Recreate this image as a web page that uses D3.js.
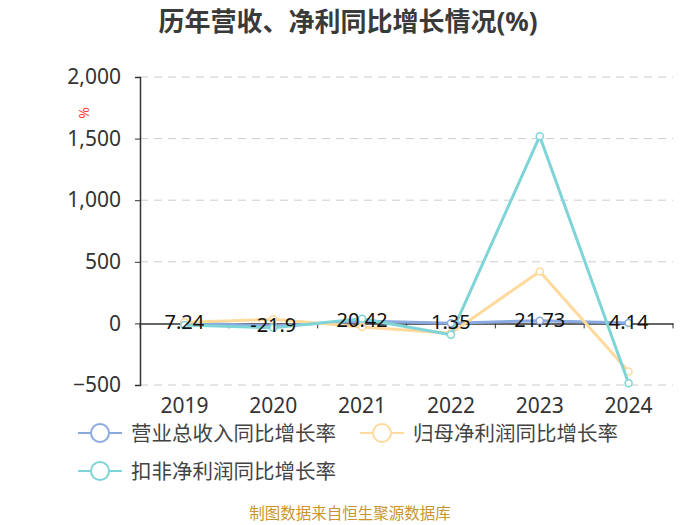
<!DOCTYPE html>
<html><head><meta charset="utf-8">
<script src="https://cdn.jsdelivr.net/npm/d3@7/dist/d3.min.js"></script>
<style>body{margin:0;background:#fff;}svg{display:block;font-family:"Noto Sans","Noto Sans CJK SC",sans-serif;}</style>
</head><body><svg id="c" width="700" height="525"></svg>
<script>
const years = ["2019","2020","2021","2022","2023","2024"];
const revenueGrowth = [7.24, -21.9, 20.42, 1.35, 21.73, 4.14];
const netProfitGrowth = [10, 33, -30, -80, 422, -390];
const deductedProfitGrowth = [-14, -35, 38, -92, 1520, -485];
const yTicks = [-500, 0, 500, 1000, 1500, 2000];
const seriesNames = ["营业总收入同比增长率", "归母净利润同比增长率", "扣非净利润同比增长率"];
const colors = ["#8aa9df", "#ffda9c", "#7fd4d7"];

const svg = d3.select("#c");
const L = 140, R = 673, T = 77, B = 385;
const x = d3.scaleBand().domain(years).range([L, R]);
const y = d3.scaleLinear().domain([-500, 2000]).range([B, T]);
const fmt = d3.format(",");

svg.append("text").attr("x", 348).attr("y", 31).attr("text-anchor", "middle")
  .attr("font-size", 26).attr("font-weight", "bold").attr("fill", "#3a3a3a")
  .text("历年营收、净利同比增长情况(%)");

// grid
svg.append("g").selectAll("line").data(yTicks.filter(d => d !== 0)).join("line")
  .attr("x1", L).attr("x2", R).attr("y1", d => y(d)).attr("y2", d => y(d))
  .attr("stroke", "#ccc").attr("stroke-dasharray", "8,6").attr("stroke-width", 1);

// y axis
const ya = svg.append("g").attr("transform", `translate(${L},0)`)
  .call(d3.axisLeft(y).tickValues(yTicks).tickFormat(fmt).tickSize(5).tickPadding(14));
ya.select(".domain").attr("stroke", "#333").attr("stroke-width", 1.5);
ya.selectAll(".tick line").attr("stroke", "#333");
ya.selectAll("text").attr("font-size", 21).attr("fill", "#333").attr("font-family", "\"Noto Sans\",sans-serif");

// x axis at zero
const xa = svg.append("g").attr("transform", `translate(0,${y(0)})`)
  .call(d3.axisBottom(x).tickSize(0).tickFormat(""));
xa.select(".domain").attr("stroke", "#333").attr("stroke-width", 1.5);
svg.append("g").selectAll("line").data(d3.range(years.length + 1)).join("line")
  .attr("x1", i => L + i * x.bandwidth()).attr("x2", i => L + i * x.bandwidth())
  .attr("y1", y(0)).attr("y2", y(0) + 5).attr("stroke", "#333").attr("stroke-width", 1);
svg.append("g").selectAll("text").data(years).join("text")
  .attr("x", d => x(d) + x.bandwidth() / 2).attr("y", 413).attr("text-anchor", "middle")
  .attr("font-size", 21).attr("fill", "#333").text(d => d);

// unit label
svg.append("text").attr("transform", `translate(89,113) rotate(-90)`).attr("text-anchor", "middle")
  .attr("font-size", 14).attr("fill", "#f33").text("%");

const cx = d => x(d) + x.bandwidth() / 2;
const line = d3.line().x(d => cx(d[0])).y(d => y(d[1]));
const all = [revenueGrowth, netProfitGrowth, deductedProfitGrowth];
all.forEach((vals, i) => {
  const pts = years.map((yr, j) => [yr, vals[j]]);
  const g = svg.append("g");
  g.append("path").datum(pts).attr("d", line).attr("fill", "none")
    .attr("stroke", colors[i]).attr("stroke-width", 3).attr("stroke-linejoin", "round");
  g.selectAll("circle").data(pts).join("circle")
    .attr("cx", d => cx(d[0])).attr("cy", d => y(d[1])).attr("r", 3.5)
    .attr("fill", "#fff").attr("stroke", colors[i]).attr("stroke-width", 1.5);
});

// labels
svg.append("g").selectAll("text").data(years.map((yr, j) => [yr, revenueGrowth[j]])).join("text")
  .attr("x", d => cx(d[0])).attr("y", d => y(d[1]) + 6).attr("text-anchor", "middle")
  .attr("font-size", 20).attr("fill", "#111").text(d => d[1]);

// legend
const leg = [[78, 433], [360, 433], [78, 471]];
seriesNames.forEach((n, i) => {
  const [lx, ly] = leg[i];
  const g = svg.append("g");
  g.append("line").attr("x1", lx).attr("x2", lx + 44).attr("y1", ly).attr("y2", ly)
    .attr("stroke", colors[i]).attr("stroke-width", 2);
  g.append("circle").attr("cx", lx + 22).attr("cy", ly).attr("r", 9)
    .attr("fill", "#fff").attr("stroke", colors[i]).attr("stroke-width", 2);
  g.append("text").attr("x", lx + 53).attr("y", ly + 7.5).attr("font-size", 20.5)
    .attr("fill", "#444").text(n);
});

svg.append("text").attr("x", 350).attr("y", 519).attr("text-anchor", "middle")
  .attr("font-size", 15.5).attr("fill", "#c9952f").text("制图数据来自恒生聚源数据库");
</script></body></html>
